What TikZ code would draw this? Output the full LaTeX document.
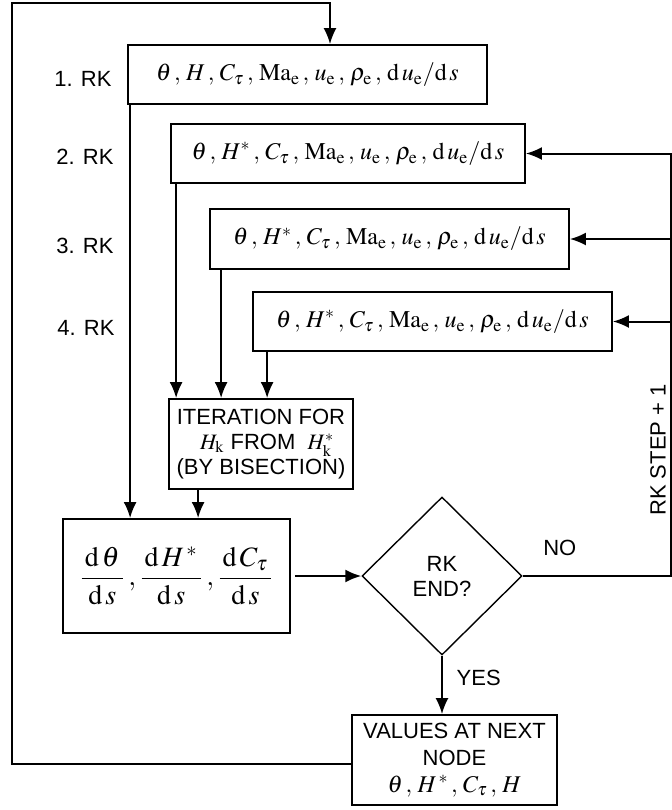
\documentclass[tikz,border=0pt]{standalone}
\usepackage{mathptmx}
\usepackage{fontspec}
\setmainfont{Liberation Serif}
\setsansfont{Liberation Sans}
\usetikzlibrary{shapes.geometric, arrows.meta}

\newcommand{\stagevars}[1]{$\theta\,,\,#1\,,\,C_{\tau}\,,\,\mathrm{Ma}_{\mathrm{e}}\,,\,u_{\mathrm{e}}\,,\,\rho_{\mathrm{e}}\,,\,\mathrm{d}\,u_{\mathrm{e}}/\mathrm{d}\,s$}

\begin{document}
\begin{tikzpicture}[x=0.5pt, y=-0.5pt, line width=1pt,
    >={Latex[length=8pt, width=6.5pt]},
    every node/.style = {font=\sffamily\fontsize{11}{12.5}\selectfont},
    box_style/.style = {draw, rectangle, inner sep=0pt, align=center, line width=0.9pt},
    vars_style/.style = {box_style, minimum width=179.5pt, minimum height=29.5pt,
        font=\fontsize{12}{14}\selectfont},
    check_style/.style = {draw, diamond, inner sep=0pt, align=center,
        minimum width=80pt, minimum height=79pt, line width=0.7pt}]

\useasboundingbox (0,0) rectangle (672,810);

% Runge-Kutta stages
\node[vars_style] (rk1) at (307.5,74.5) {\stagevars{H}};
\node[vars_style, minimum width=177pt] (rk2) at (348,153.5) {\stagevars{H^{*}}};
\node[vars_style, minimum height=30pt] (rk3) at (389.5,239) {\stagevars{H^{*}}};
\node[vars_style] (rk4) at (432.5,321.5) {\stagevars{H^{*}}};

\node (lab1) at (83,79) {1. RK};
\node (lab2) at (85,157) {2. RK};
\node (lab3) at (85,246) {3. RK};
\node (lab4) at (86,328) {4. RK};

% shape factor iteration
\node[box_style, minimum width=92pt, minimum height=45pt] (iter) at (261,444) {
    ITERATION FOR\\
    \ \ $H_{\mathrm{k}}$ FROM\ \ $H_{\mathrm{k}}^{*}$\\
    (BY BISECTION)};

% derivatives
\node[box_style, minimum width=113.5pt, minimum height=57pt,
    font=\fontsize{14}{16}\selectfont] (deriv) at (176.5,576) {
    $\displaystyle\frac{\,\mathrm{d}\,\theta\,}{\mathrm{d}\,s}\,,
     \frac{\,\mathrm{d}\,H^{\,*}\,}{\mathrm{d}\,s}\,,
     \frac{\,\mathrm{d}\,C_{\tau}\,}{\mathrm{d}\,s}$};

\node[check_style] (check) at (442,576) {RK\\END?};

\node[box_style, minimum width=102.5pt, minimum height=45pt,
    font=\sffamily\fontsize{11}{13.5}\selectfont] (values) at (454.5,760) {
    VALUES AT NEXT\\
    NODE\\
    {\fontsize{12}{13.5}\selectfont$\theta\,,\,H^{\,*}\,,\,C_{\tau}\,,\,H$}};

\node[rotate=90] (step) at (658,450) {RK STEP + 1};

\coordinate (rback) at (671,576);
\coordinate (lt) at (12,3);
\coordinate (top) at (330,3);

% stages to iteration
\draw[->] ([xshift=3pt]rk2.south west) -- ([xshift=3pt]rk2.south west |- iter.north);
\draw[->] ([xshift=6pt]rk3.south west) -- ([xshift=6pt]rk3.south west |- iter.north);
\draw[->] ([xshift=7.5pt]rk4.south west) -- ([xshift=7.5pt]rk4.south west |- iter.north);

% first stage and iteration to derivatives
\draw[->] ([xshift=1.5pt]rk1.south west) -- ([xshift=1.5pt]rk1.south west |- deriv.north);
\draw[->] ([xshift=15pt]iter.south west) -- ([xshift=15pt]iter.south west |- deriv.north);

% derivatives to check
\draw[->] ([xshift=2pt]deriv.east) -- (check);

% check: no -> next stage
\draw[->] (check.east) -- node[above=6.5pt, pos=0.25] {NO} (rback) |- (rk2.east);
\draw[->] (rback |- rk3.east) -- (rk3.east);
\draw[->] (rback |- rk4.east) -- (rk4.east);

% check: yes -> next node
\draw[->] (check.south) -- node[right=3.5pt, pos=0.38] {YES} (check.south |- values.north);

% next node back to first stage
\draw[->] ([yshift=-2pt]values.west) -| (lt) -- (top) -- (top |- rk1.north);

\end{tikzpicture}
\end{document}
